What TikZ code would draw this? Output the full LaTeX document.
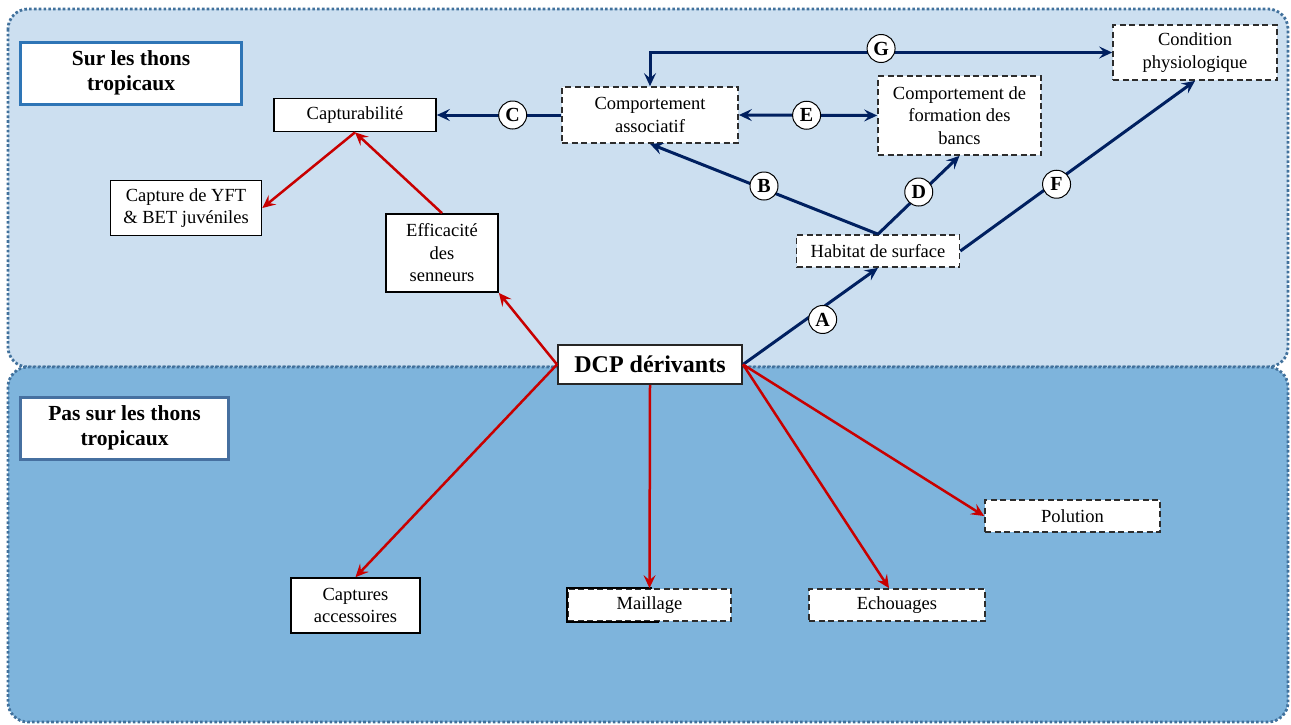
\documentclass[tikz,border=0pt]{standalone}
\usepackage{fontspec}
\setmainfont{Liberation Serif}
\usetikzlibrary{arrows.meta,calc}
\definecolor{navyc}{RGB}{0,32,96}
\definecolor{redc}{RGB}{200,0,0}
\definecolor{topfill}{RGB}{204,223,240}
\definecolor{botfill}{RGB}{126,180,220}
\definecolor{panelline}{RGB}{65,113,156}
\definecolor{titleline}{RGB}{46,117,182}
\definecolor{titlelinetwo}{RGB}{70,112,160}
\definecolor{dashline}{RGB}{45,45,45}
\begin{document}
\begin{tikzpicture}[x=1pt,y=-1pt,
 panel/.style={rounded corners=20pt, draw=panelline, line width=2.8pt, dash pattern=on 2.6pt off 2.2pt},
 solidbox/.style={draw=black, fill=white, line width=1.7pt, align=center, inner sep=0pt, font=\fontsize{18.5}{22.5}\selectfont},
 dashbox/.style={draw=dashline, fill=white, line width=1.7pt, dash pattern=on 6pt off 3.5pt, align=center, inner sep=0pt, font=\fontsize{18.5}{22.5}\selectfont},
 titlebox/.style={draw=titleline, fill=white, line width=3pt, align=center, inner sep=0pt, font=\bfseries\fontsize{21.5}{25.5}\selectfont},
 lbl/.style={circle, draw=black, fill=white, line width=1pt, inner sep=0pt, minimum size=28pt, font=\bfseries\fontsize{20}{20}\selectfont, text=black},
 tipshape/.style={},
 navyarrow/.style={draw=navyc, line width=3pt, -{Stealth[length=13pt,width=12pt,inset=5pt]}},
 navyboth/.style={draw=navyc, line width=3pt, {Stealth[length=13pt,width=12pt,inset=5pt]}-{Stealth[length=13pt,width=12pt,inset=5pt]}},
 redarrow/.style={draw=redc, line width=2.5pt, -{Stealth[length=13pt,width=12pt,inset=5pt]}},
]
\useasboundingbox (0,0) rectangle (1291,724);
% panels
\draw[panel, fill=topfill] (8,9) rectangle (1288,367);
\draw[panel, fill=botfill] (8,367) rectangle (1288,722);
% titles
\node[titlebox, minimum width=221pt, minimum height=62pt] (t1) at (131,73) {Sur les thons\\tropicaux};
\node[titlebox, draw=titlelinetwo, minimum width=208pt, minimum height=62pt] (t2) at (124.5,428) {Pas sur les thons\\tropicaux};
% solid boxes
\node[solidbox, minimum width=162pt, minimum height=33pt] (capt) at (355,115) {Capturabilité};
\node[solidbox, minimum width=151pt, minimum height=55pt] (yft) at (186,208) {Capture de YFT\\\& BET juvéniles};
\node[solidbox, minimum width=112pt, minimum height=78pt] (eff) at (442,253) {Efficacité\\des\\senneurs};
\node[solidbox, minimum width=129pt, minimum height=55pt] (acc) at (355.5,605.5) {Captures\\accessoires};
\node[solidbox, draw=black!85, line width=2pt, minimum width=184pt, minimum height=39pt, font=\bfseries\fontsize{24}{28}\selectfont] (dcp) at (650,364.5) {DCP dérivants};
% dashed boxes
\node[dashbox, minimum width=176pt, minimum height=56pt] (assoc) at (650,115) {Comportement\\associatif};
\node[dashbox, minimum width=163pt, minimum height=79pt] (form) at (959.5,115.5) {Comportement de\\formation des\\bancs};
\node[dashbox, minimum width=164pt, minimum height=55pt] (cond) at (1195,52.5) {Condition\\physiologique};
\node[dashbox, minimum width=163pt, minimum height=32pt] (hab) at (878,251) {Habitat de surface};
\node[dashbox, minimum width=163pt, minimum height=32pt] (mail) at (649.5,605) {Maillage};
\node[dashbox, minimum width=176pt, minimum height=32pt] (echo) at (897,605) {Echouages};
\node[dashbox, minimum width=175pt, minimum height=32pt] (polu) at (1072.5,516) {Polution};
\draw[black, line width=1.7pt] ($(mail.north west)+(85,0)$) -- (mail.north west) -- (mail.south west) -- ($(mail.south west)+(92,0)$);
% navy connectors
\draw[navyarrow] (assoc.west) -- (capt.east) node[lbl,pos=0.39]{C};
\draw[navyboth] (assoc.east) -- (form.west) node[lbl,pos=0.49]{E};
\draw[navyboth] (cond.west) -| (assoc.north) node[lbl,pos=0.25,yshift=4pt]{G};
\draw[navyarrow] (hab.north) -- (assoc.south) node[lbl,pos=0.5,yshift=3pt]{B};
\draw[navyarrow] (hab.north) -- (form.south) node[lbl,pos=0.5,yshift=3pt]{D};
\draw[navyarrow] (hab.east) -- (cond.south) node[lbl,pos=0.41,yshift=-3pt]{F};
\draw[navyarrow] (dcp.east) -- (hab.south) node[lbl,pos=0.59,yshift=-12pt]{A};
% red connectors
\draw[redarrow] (capt.south) -- (yft.east);
\draw[redarrow] (eff.north) -- (capt.south);
\draw[redarrow] (dcp.west) -- (eff.south east);
\draw[redarrow] (dcp.west) -- (acc.north);
\draw[redarrow] (dcp.south) -- (mail.north);
\draw[redarrow] (dcp.east) -- ($(echo.north)+(-8,0)$);
\draw[redarrow] (dcp.east) -- (polu.west);
\end{tikzpicture}
\end{document}
